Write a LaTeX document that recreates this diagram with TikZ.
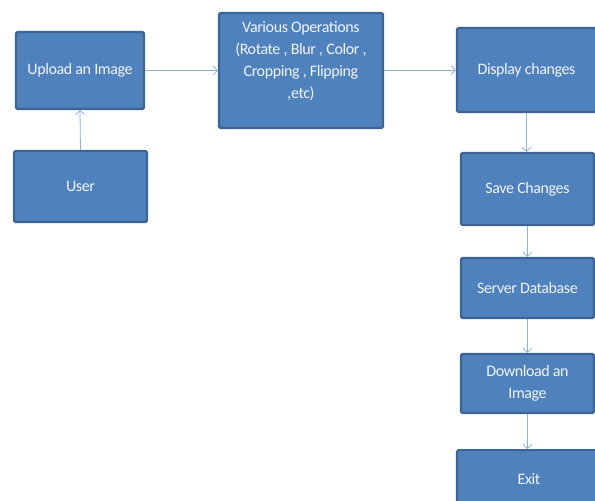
\documentclass[tikz,border=0pt]{standalone}
\usepackage{fontspec}
\setmainfont{Carlito}[LetterSpace=-2.5]
\usetikzlibrary{arrows.meta}
\definecolor{boxfill}{HTML}{4F81BD}
\definecolor{boxline}{HTML}{3C6494}
\definecolor{arrowcol}{HTML}{8EB2DE}
\definecolor{txt}{HTML}{F0F4FA}
\tikzset{
  flowbox/.style={draw=boxline, line width=2.2pt, fill=boxfill, rounded corners=1.5pt,
    text=txt, font=\fontsize{16}{22}\selectfont, align=center, inner sep=0pt},
  flowtext/.style={text=txt, font=\fontsize{16}{22}\selectfont, align=center, inner sep=0pt},
  flowarrow/.style={draw=arrowcol, line width=0.8pt, -{Straight Barb[length=4pt,width=9pt]}}
}
\begin{document}
\begin{tikzpicture}[x=1pt,y=-1pt]
\useasboundingbox (0,0) rectangle (595,501);
\clip (0,0) rectangle (595,501);
\fill[white] (0,0) rectangle (595,501);
\node[flowbox, minimum width=128pt, minimum height=77pt] (upload) at (80,70.5) {Upload an Image};
\node[flowbox, minimum width=133pt, minimum height=71pt] (user) at (80.5,186.5) {User};
\node[flowbox, minimum width=164pt, minimum height=115pt] (ops) at (301,70.5) {};
\node[flowtext] (opstext) at (301,61) {Various Operations\\(Rotate , Blur , Color ,\\Cropping , Flipping\\,etc)};
\node[flowbox, minimum width=139pt, minimum height=84pt] (display) at (526.5,70) {Display changes};
\node[flowbox, minimum width=133pt, minimum height=72pt] (save) at (527.5,189) {Save Changes};
\node[flowbox, minimum width=133pt, minimum height=60pt] (server) at (527.5,288) {Server Database};
\node[flowbox, minimum width=133pt, minimum height=59pt] (download) at (527.5,383.5) {Download an\\Image};
\node[flowbox, minimum width=140pt, minimum height=66pt, anchor=north] (exit) at (527,449) {};
\node[flowtext] (exittext) at (529,479) {Exit};
\draw[flowarrow] (user.north) -- (upload.south);
\draw[flowarrow] (upload.east) -- (ops.west |- upload.east);
\draw[flowarrow] (ops.east |- display.west) -- (display.west);
\draw[flowarrow] (display.south) -- (save.north -| display.south);
\draw[flowarrow] (save.south) -- (server.north);
\draw[flowarrow] (server.south) -- (download.north);
\draw[flowarrow] (download.south) -- (exit.north -| download.south);
\end{tikzpicture}
\end{document}
